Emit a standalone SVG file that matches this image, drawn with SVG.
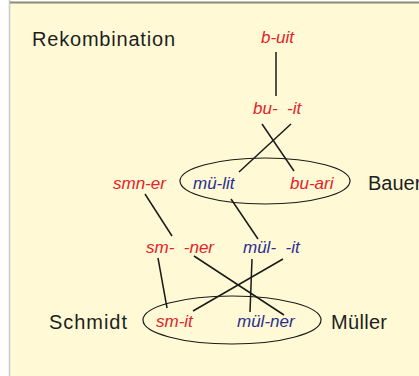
<svg xmlns="http://www.w3.org/2000/svg" width="419" height="376" viewBox="0 0 419 376">
<style>
.lbl{font-family:"Liberation Sans",Arial,sans-serif;font-size:20px;fill:#1e1e1e}
.r{font-family:"Liberation Sans",Arial,sans-serif;font-size:17px;font-style:italic;fill:#e62129}
.b{font-family:"Liberation Sans",Arial,sans-serif;font-size:17px;font-style:italic;fill:#2b2e8f}
.ln{stroke:#1a1a1a;stroke-width:1.5;fill:none}
.el{stroke:#1a1a1a;stroke-width:1.2;fill:none}
</style>
<rect x="0" y="0" width="419" height="376" fill="#ffffff"/>
<rect x="10" y="2" width="409" height="374" fill="#fffad5"/>
<line x1="9.5" y1="0" x2="9.5" y2="376" stroke="#c5c8d8" stroke-width="1.5"/>
<line x1="10" y1="2.5" x2="419" y2="2.5" stroke="#8c8a78" stroke-width="2"/>
<text class="lbl" x="32" y="46" textLength="143">Rekombination</text>
<g id="connectors">
<line class="ln" x1="276" y1="52" x2="276" y2="96"/>
<line class="ln" x1="291" y1="124" x2="239" y2="172"/>
<line class="ln" x1="262" y1="124" x2="294" y2="171"/>
<line class="ln" x1="145" y1="194" x2="172" y2="236"/>
<line class="ln" x1="231" y1="199" x2="258" y2="239"/>
<line class="ln" x1="158" y1="258" x2="167" y2="308"/>
<line class="ln" x1="194" y1="256" x2="284" y2="315"/>
<line class="ln" x1="252" y1="259" x2="250" y2="312"/>
<line class="ln" x1="283" y1="259" x2="193" y2="311"/>
</g>
<g id="n-buit"><text class="r" x="261" y="43">b-uit</text></g>
<g id="n-bu-it"><text class="r" x="253" y="114" xml:space="preserve">bu-  -it</text></g>
<g id="n-bauer">
<ellipse class="el" cx="265" cy="181" rx="85" ry="23"/>
<text class="b" x="193" y="189">mü-lit</text>
<text class="r" x="290" y="189">bu-ari</text>
<text class="lbl" x="368" y="190">Bauer</text>
</g>
<g id="n-smner"><text class="r" x="113" y="189">smn-er</text></g>
<g id="n-sm-ner"><text class="r" x="146" y="253" xml:space="preserve">sm-  -ner</text></g>
<g id="n-mul-it"><text class="b" x="243" y="253" xml:space="preserve">mül-  -it</text></g>
<g id="n-schmidt-mueller">
<ellipse class="el" cx="232" cy="320" rx="89" ry="24"/>
<text class="r" x="156" y="327">sm-it</text>
<text class="b" x="237" y="327">mül-ner</text>
<text class="lbl" x="49" y="329" textLength="78">Schmidt</text>
<text class="lbl" x="331" y="329" textLength="56">Müller</text>
</g>
</svg>
